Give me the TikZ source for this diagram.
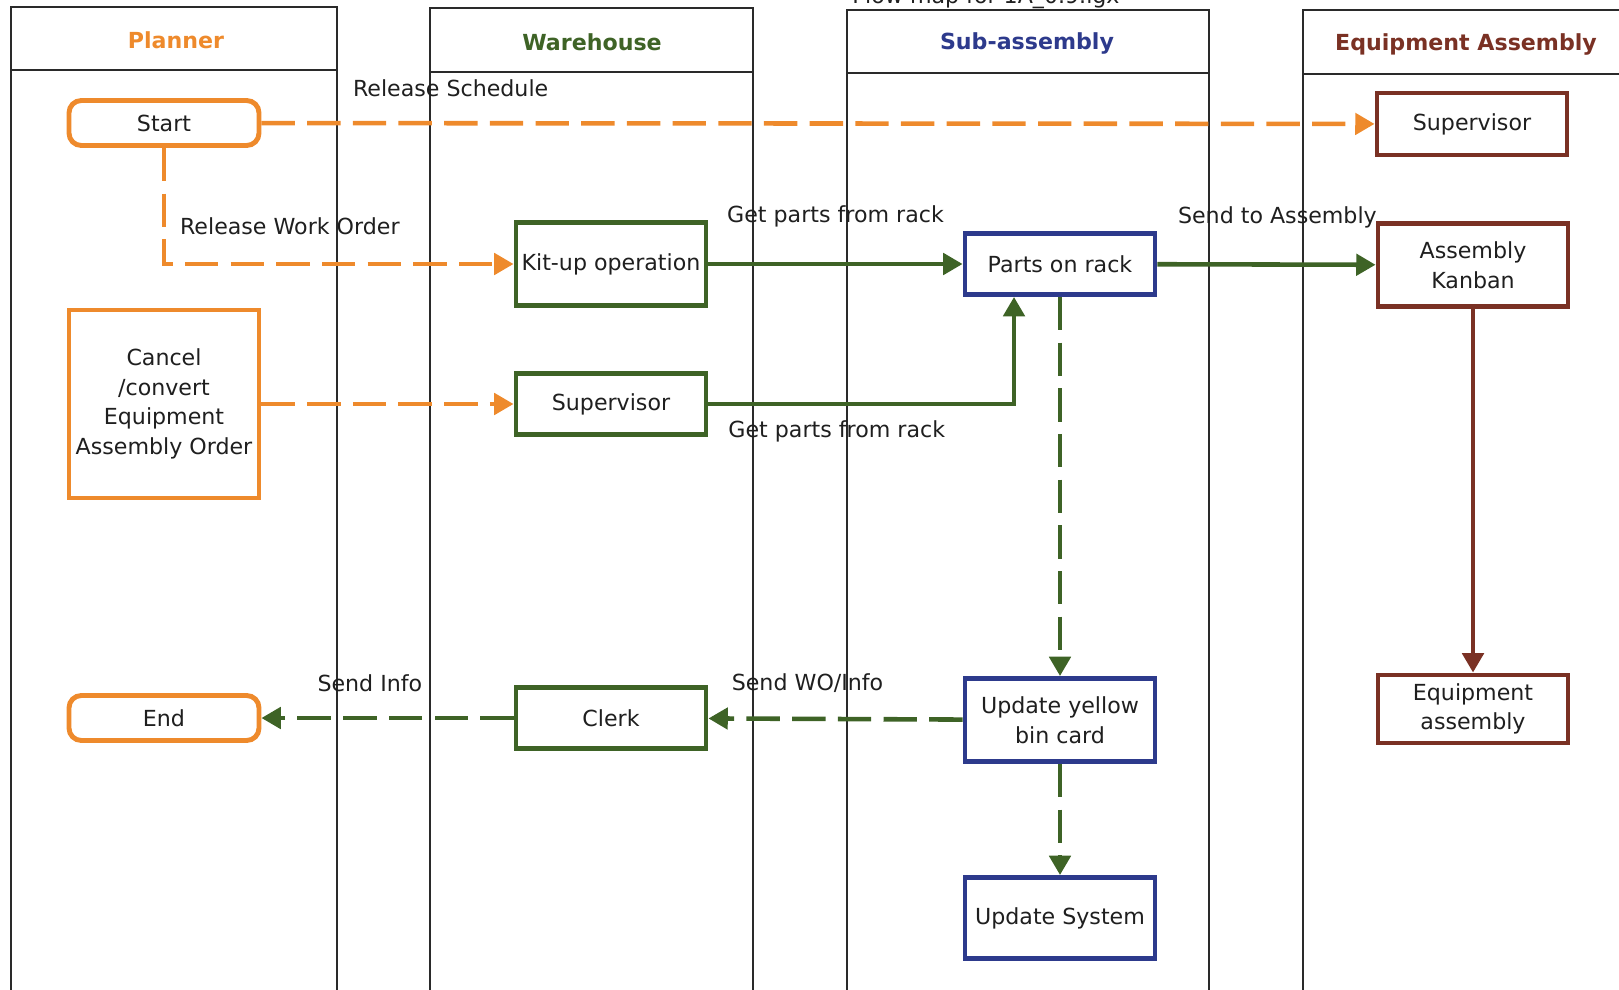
\documentclass[tikz,border=0pt]{standalone}
\usepackage{fontspec}
\setmainfont{DejaVu Sans}
\usetikzlibrary{positioning,arrows.meta}
\definecolor{cplan}{HTML}{EE8A2C}
\definecolor{cware}{HTML}{3E6326}
\definecolor{csub}{HTML}{2D3A8C}
\definecolor{cequip}{HTML}{7A3124}
\definecolor{cline}{HTML}{2A2A2A}
\definecolor{ctext}{HTML}{1F1F1F}
\tikzset{
  b/.style   = {draw, fill=white, line width=2.8pt, minimum width=3.8cm,
                minimum height=1.22cm, align=center, inner sep=1pt,
                font=\fontsize{12.6}{16.8}\selectfont, text=ctext},
  bp/.style  = {b, draw=cplan},
  bt/.style  = {bp, rounded corners=7pt, minimum height=0.9cm},
  bw/.style  = {b, draw=cware},
  bs/.style  = {b, draw=csub},
  be/.style  = {b, draw=cequip},
  lane/.style = {draw=cline, line width=0.8pt},
  hd/.style  = {font=\fontsize{12.6}{15}\selectfont\bfseries},
  tip/.style = {-{Triangle[length=11pt,width=12pt]}, line width=2.6pt},
  ao/.style  = {tip, draw=cplan, dash pattern=on 19pt off 7pt},
  ag/.style  = {tip, draw=cware},
  agd/.style = {ag, dash pattern=on 19pt off 7pt},
  ae/.style  = {tip, draw=cequip},
  al/.style  = {font=\fontsize{12.6}{15}\selectfont, text=ctext, inner sep=1pt},
}

\begin{document}
\begin{tikzpicture}[x=0.02cm, y=-0.02cm]
\useasboundingbox (0,0) rectangle (1619,990);

% ---- swimlanes
\foreach \xa/\xb/\yt/\yh in {11/337/7/70, 430/753/8/72, 847/1209/10/73, 1303/1640/10/74} {
  \draw[lane] (\xa,1000) |- (\xb,\yt) -- (\xb,1000);
  \draw[lane] (\xa,\yh) -- (\xb,\yh);
}
\node[hd, text=cplan]  (hplan)  at (176,40)  {Planner};
\node[hd, text=cware]  (hware)  at (592,42)  {Warehouse};
\node[hd, text=csub]   (hsub)   at (1027,43) {Sub-assembly};
\node[hd, text=cequip] (hequip) at (1466,44) {Equipment Assembly};
\node[al, anchor=base] (title)  at (986,4)   {Flow map for 1A\_0.9.igx};

% ---- steps
\node[bt] (start)   at (164,123)  {Start};
\node[be, minimum height=1.24cm] (sup)    at (1472,124) {Supervisor};
\node[bw, minimum height=1.66cm] (kit)    at (611,264)  {Kit-up operation};
\node[bs] (rack)    at (1060,264) {Parts on rack};
\node[be, minimum height=1.66cm] (kanban) at (1473,265) {Assembly\\Kanban};
\node[bp, minimum height=3.76cm] (cancel) at (164,404)  {Cancel\\/convert\\Equipment\\Assembly Order};
\node[bw] (wsup)    at (611,404)  {Supervisor};
\node[bt] (end)     at (164,718)  {End};
\node[bw] (clerk)   at (611,718)  {Clerk};
\node[bs, minimum height=1.66cm] (bincard) at (1060,720) {Update yellow\\bin card};
\node[be, minimum height=1.36cm] (eqasm)  at (1473,709) {Equipment\\assembly};
\node[bs, minimum height=1.62cm] (sys)    at (1060,918) {Update System};

% ---- planner orders
\draw[ao] (start) -- node[al, pos=0.17, above=0.45cm] (lrs) {Release Schedule} (sup);
\draw[ao] (start) |- node[al, pos=0.68, above=0.5cm] (lrwo) {Release Work Order} (kit);
\draw[ao] (cancel) -- (wsup);

% ---- parts flow
\draw[ag] (kit) -- node[al, above=0.66cm] (lgp1) {Get parts from rack} (rack);
\draw[ag] (wsup) -| node[al, pos=0.21, below=0.26cm] (lgp2) {Get parts from rack}
          ([xshift=-0.92cm]rack.south);
\draw[ag] (rack) -- node[al, pos=0.55, above=0.64cm] (lsta) {Send to Assembly} (kanban);
\draw[ae] (kanban) -- (eqasm);

% ---- info back to planner
\draw[agd] (rack) -- (bincard);
\draw[agd] (bincard) -- node[al, pos=0.61, above=0.45cm] (lwo) {Send WO/Info} (clerk);
\draw[agd] (clerk) -- node[al, pos=0.57, above=0.45cm] (lsi) {Send Info} (end);
\draw[agd] (bincard) -- (sys);

\end{tikzpicture}
\end{document}
